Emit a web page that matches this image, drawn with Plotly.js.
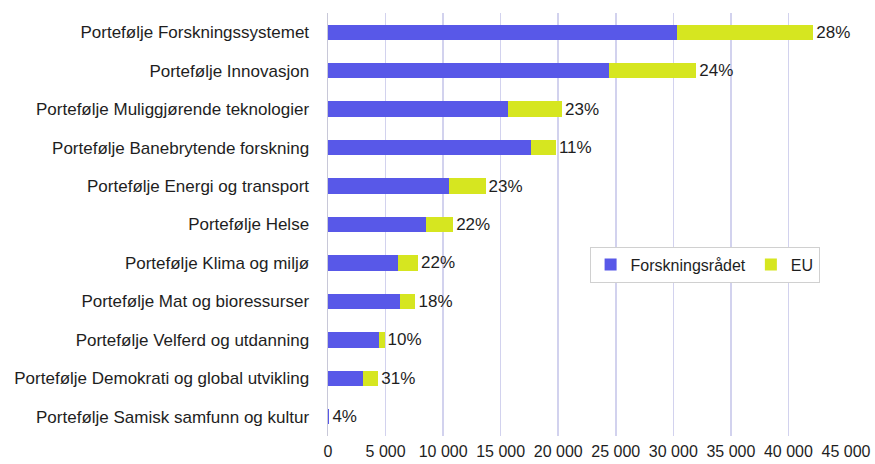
<!DOCTYPE html>
<html>
<head>
<meta charset="utf-8">
<script src="https://cdn.plot.ly/plotly-3.0.1.min.js"></script>
<style>html,body{margin:0;padding:0;background:#fff;}#chart{width:875px;height:464px;}</style>
</head>
<body>
<div id="chart"></div>
<script>
const categories = [
  "Portefølje Forskningssystemet",
  "Portefølje Innovasjon",
  "Portefølje Muliggjørende teknologier",
  "Portefølje Banebrytende forskning",
  "Portefølje Energi og transport",
  "Portefølje Helse",
  "Portefølje Klima og miljø",
  "Portefølje Mat og bioressurser",
  "Portefølje Velferd og utdanning",
  "Portefølje Demokrati og global utvikling",
  "Portefølje Samisk samfunn og kultur"
];
const forskningsradet = [30360, 24380, 15600, 17650, 10540, 8470, 6110, 6230, 4400, 3030, 115];
const eu = [11800, 7610, 4730, 2150, 3150, 2400, 1710, 1370, 510, 1345, 5];
const euShareLabels = ["28%", "24%", "23%", "11%", "23%", "22%", "22%", "18%", "10%", "31%", "4%"];
const seriesNames = ["Forskningsrådet", "EU"];

const fam = "Liberation Sans, Arial, sans-serif";
const txt = "#1e1e1e";

const data = [
  {
    type: "bar", orientation: "h", name: seriesNames[0],
    y: categories, x: forskningsradet,
    marker: {color: "#5858E8"}
  },
  {
    type: "bar", orientation: "h", name: seriesNames[1],
    y: categories, x: eu,
    marker: {color: "#D6E620"},
    text: euShareLabels, textposition: "outside", cliponaxis: false,
    constraintext: "none", textangle: 0,
    outsidetextfont: {family: fam, size: 17, color: txt}
  }
];

const layout = {
  width: 875, height: 464,
  margin: {l: 328, r: 29, t: 13, b: 28, pad: 0},
  barmode: "stack", bargap: 0.6,
  separators: ", ",
  paper_bgcolor: "#fff", plot_bgcolor: "#fff",
  font: {family: fam, size: 17, color: txt},
  showlegend: true,
  legend: {
    orientation: "h", x: 0.505, y: 0.405, xanchor: "left", yanchor: "middle",
    bordercolor: "#D0D0D0", borderwidth: 1, bgcolor: "#fff",
    font: {family: fam, size: 16, color: txt},
    itemwidth: 30, traceorder: "normal"
  },
  xaxis: {
    range: [0, 45000], dtick: 5000, tickformat: ",d",
    showgrid: true, gridcolor: "#D2D2EE", gridwidth: 1.5,
    zeroline: false, showline: false,
    ticks: "outside", ticklen: 1, tickcolor: "rgba(0,0,0,0)",
    tickfont: {family: fam, size: 16, color: txt},
    fixedrange: true
  },
  yaxis: {
    autorange: "reversed", type: "category",
    showline: true, linecolor: "#C8C8D8", linewidth: 1.5,
    ticks: "outside", ticklen: 14, tickcolor: "rgba(0,0,0,0)",
    tickfont: {family: fam, size: 17, color: txt},
    showgrid: false, fixedrange: true
  }
};

Plotly.newPlot("chart", data, layout, {displayModeBar: false, staticPlot: true});
</script>
</body>
</html>
